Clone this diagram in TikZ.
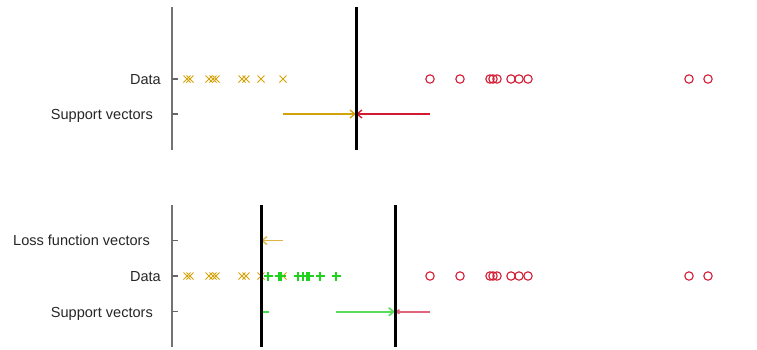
\documentclass[tikz,border=0pt]{standalone}
\usepackage{fontspec}
\setmainfont{Liberation Sans}
\usetikzlibrary{arrows.meta}
\definecolor{cgold}{HTML}{D4A20A}
\definecolor{cgoldl}{HTML}{E0B440}
\definecolor{cred}{HTML}{D41A32}
\definecolor{credl}{HTML}{E0647A}
\definecolor{cgreen}{HTML}{1ED21E}
\definecolor{cgreenl}{HTML}{5CDC5C}
\begin{document}
\begin{tikzpicture}[x=1bp,y=-1bp,
  lbl/.style={anchor=base east, font=\fontsize{14.6}{16}\selectfont, text=black!85, inner sep=0},
  axisl/.style={draw=black!55, line width=1.1bp},
  tickl/.style={draw=black!60, line width=1.1bp},
  bound/.style={draw=black, line width=3bp},
  xmark/.style={draw=cgold, line width=1bp},
  omark/.style={draw=cred, line width=1.1bp},
  pmark/.style={draw=cgreen, line width=1.3bp},
  arr/.style={line width=1.3bp, -{Straight Barb[length=5bp,width=8bp]}},
]
\useasboundingbox (0,0) rectangle (757,349);
% ---------- top panel ----------
\draw[axisl] (172,7) -- (172,150);
\draw[tickl] (172,79) -- (178,79);
\draw[tickl] (172,114) -- (178,114);
\node[lbl] (td) at (161,84) {Data};
\node[lbl] (tsv) at (153,119.5) {Support vectors};
\foreach \x in {187,190,209,213,216,242,246,261,283}
  \draw[xmark] (\x-3.5,75.5) -- (\x+3.5,82.5) (\x-3.5,82.5) -- (\x+3.5,75.5);
\foreach \x in {430,460,490,493,497,511,519,528,689,708}
  \draw[omark] (\x,79) circle[radius=4.2];
\coordinate (tgs) at (283,114);
\coordinate (tm) at (356,114);
\coordinate (trs) at (430,114);
\draw[arr, cgold] (tgs) -- (tm);
\draw[arr, cred] (trs) -- (tm);
\draw[bound] (356,7) -- (356,150);
% ---------- bottom panel ----------
\draw[axisl] (172,205) -- (172,347);
\draw[tickl] (172,240.5) -- (178,240.5);
\draw[tickl] (172,276) -- (178,276);
\draw[tickl] (172,311.7) -- (178,311.7);
\node[lbl] (bl) at (150,245.5) {Loss function vectors};
\node[lbl] (bd) at (161,281) {Data};
\node[lbl] (bsv) at (153,317) {Support vectors};
\foreach \x in {187,190,209,213,216,242,246,261,283}
  \draw[xmark] (\x-3.5,272.5) -- (\x+3.5,279.5) (\x-3.5,279.5) -- (\x+3.5,272.5);
\foreach \x in {268,279,281,298,303,307,309,320,336}
  \draw[pmark] (\x-4.5,276) -- (\x+4.5,276) (\x,271.5) -- (\x,280.5);
\foreach \x in {430,460,490,493,497,511,519,528,689,708}
  \draw[omark] (\x,276) circle[radius=4.2];
\coordinate (bls) at (283,240.5);
\coordinate (ble) at (261,240.5);
\draw[arr, cgoldl] (bls) -- (ble);
\coordinate (bgs0) at (269,311.7);
\coordinate (bge0) at (262,311.7);
\draw[line width=2bp, cgreen!80!white] (bgs0) -- (bge0);
\coordinate (bgs) at (336,311.7);
\coordinate (bm) at (395,311.7);
\coordinate (brs) at (430,311.7);
\draw[arr, line width=1.6bp, cgreenl] (bgs) -- (bm);
\draw[line width=1.6bp, credl, -{Straight Barb[length=3bp,width=4bp]}] (brs) -- (bm);
\draw[bound] (261,205) -- (261,347);
\draw[bound] (395,205) -- (395,347);
\end{tikzpicture}
\end{document}
